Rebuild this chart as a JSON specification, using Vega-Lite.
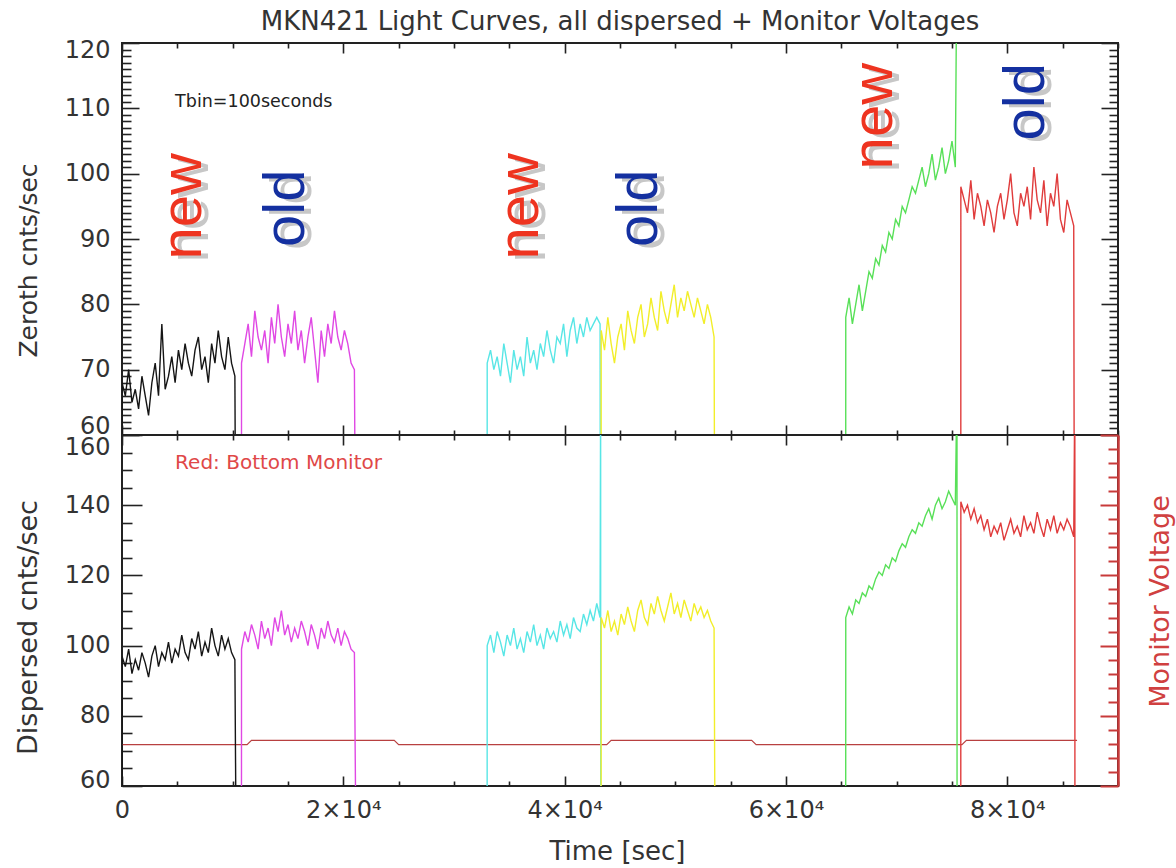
{
  "$schema": "https://vega.github.io/schema/vega-lite/v6.json",
  "autosize": "none",
  "padding": {"left": 122, "top": 43, "right": 1054, "bottom": 825},
  "background": "white",
  "config": {
    "view": {"stroke": "#222", "strokeWidth": 2},
    "font": "DejaVu Sans",
    "axis": {"grid": false, "domain": false, "tickColor": "#222", "tickWidth": 1.6, "labelFont": "DejaVu Sans", "labelFontSize": 24, "labelColor": "#333", "labelOverlap": false, "labelFlush": false, "titleFont": "DejaVu Sans", "titleFontSize": 25, "titleFontWeight": "normal", "titleColor": "#333"}
  },
  "datasets": {
    "lc": [
      {"t": -1, "z": 0, "d": 0, "s": "k"},
      {"t": 0, "z": 68, "d": 97, "s": "k"}, {"t": 300, "z": 66, "d": 94, "s": "k"}, {"t": 600, "z": 70, "d": 99, "s": "k"}, {"t": 900, "z": 65, "d": 92, "s": "k"}, {"t": 1200, "z": 67, "d": 96, "s": "k"},
      {"t": 1500, "z": 64, "d": 93, "s": "k"}, {"t": 1800, "z": 69, "d": 98, "s": "k"}, {"t": 2100, "z": 66, "d": 95, "s": "k"}, {"t": 2400, "z": 63, "d": 91, "s": "k"}, {"t": 2700, "z": 68, "d": 97, "s": "k"},
      {"t": 3000, "z": 71, "d": 100, "s": "k"}, {"t": 3300, "z": 66, "d": 94, "s": "k"}, {"t": 3600, "z": 77, "d": 98, "s": "k"}, {"t": 3900, "z": 67, "d": 96, "s": "k"}, {"t": 4200, "z": 69, "d": 101, "s": "k"},
      {"t": 4500, "z": 72, "d": 95, "s": "k"}, {"t": 4800, "z": 68, "d": 99, "s": "k"}, {"t": 5100, "z": 73, "d": 97, "s": "k"}, {"t": 5400, "z": 70, "d": 103, "s": "k"}, {"t": 5700, "z": 74, "d": 98, "s": "k"},
      {"t": 6000, "z": 71, "d": 96, "s": "k"}, {"t": 6300, "z": 69, "d": 102, "s": "k"}, {"t": 6600, "z": 73, "d": 99, "s": "k"}, {"t": 6900, "z": 75, "d": 104, "s": "k"}, {"t": 7200, "z": 70, "d": 97, "s": "k"},
      {"t": 7500, "z": 72, "d": 101, "s": "k"}, {"t": 7800, "z": 68, "d": 98, "s": "k"}, {"t": 8100, "z": 74, "d": 105, "s": "k"}, {"t": 8400, "z": 71, "d": 100, "s": "k"}, {"t": 8700, "z": 76, "d": 97, "s": "k"},
      {"t": 9000, "z": 72, "d": 103, "s": "k"}, {"t": 9300, "z": 70, "d": 99, "s": "k"}, {"t": 9600, "z": 75, "d": 102, "s": "k"}, {"t": 9900, "z": 71, "d": 98, "s": "k"}, {"t": 10200, "z": 69, "d": 96, "s": "k"},
      {"t": 10400, "z": 0, "d": 0, "s": "k"},
      {"t": 10790, "z": 0, "d": 0, "s": "m"},
      {"t": 10800, "z": 71, "d": 99, "s": "m"}, {"t": 11100, "z": 74, "d": 104, "s": "m"}, {"t": 11400, "z": 77, "d": 101, "s": "m"}, {"t": 11700, "z": 72, "d": 106, "s": "m"}, {"t": 12000, "z": 79, "d": 103, "s": "m"},
      {"t": 12300, "z": 75, "d": 99, "s": "m"}, {"t": 12600, "z": 73, "d": 107, "s": "m"}, {"t": 12900, "z": 76, "d": 102, "s": "m"}, {"t": 13200, "z": 71, "d": 105, "s": "m"}, {"t": 13500, "z": 78, "d": 100, "s": "m"},
      {"t": 13800, "z": 74, "d": 108, "s": "m"}, {"t": 14100, "z": 80, "d": 104, "s": "m"}, {"t": 14400, "z": 75, "d": 110, "s": "m"}, {"t": 14700, "z": 72, "d": 103, "s": "m"}, {"t": 15000, "z": 77, "d": 106, "s": "m"},
      {"t": 15300, "z": 74, "d": 101, "s": "m"}, {"t": 15600, "z": 79, "d": 105, "s": "m"}, {"t": 15900, "z": 73, "d": 102, "s": "m"}, {"t": 16200, "z": 76, "d": 107, "s": "m"}, {"t": 16500, "z": 71, "d": 104, "s": "m"},
      {"t": 16800, "z": 75, "d": 100, "s": "m"}, {"t": 17100, "z": 78, "d": 106, "s": "m"}, {"t": 17400, "z": 73, "d": 103, "s": "m"}, {"t": 17700, "z": 68, "d": 99, "s": "m"}, {"t": 18000, "z": 76, "d": 105, "s": "m"},
      {"t": 18300, "z": 72, "d": 102, "s": "m"}, {"t": 18600, "z": 77, "d": 107, "s": "m"}, {"t": 18900, "z": 74, "d": 103, "s": "m"}, {"t": 19200, "z": 79, "d": 101, "s": "m"}, {"t": 19500, "z": 75, "d": 105, "s": "m"},
      {"t": 19800, "z": 73, "d": 100, "s": "m"}, {"t": 20100, "z": 76, "d": 104, "s": "m"}, {"t": 20400, "z": 74, "d": 102, "s": "m"}, {"t": 20700, "z": 71, "d": 99, "s": "m"}, {"t": 21000, "z": 70, "d": 98, "s": "m"},
      {"t": 21250, "z": 0, "d": 0, "s": "m"},
      {"t": 32990, "z": 0, "d": 0, "s": "c"},
      {"t": 33000, "z": 71, "d": 100, "s": "c"}, {"t": 33300, "z": 73, "d": 103, "s": "c"}, {"t": 33600, "z": 70, "d": 98, "s": "c"}, {"t": 33900, "z": 72, "d": 104, "s": "c"}, {"t": 34200, "z": 69, "d": 101, "s": "c"},
      {"t": 34500, "z": 74, "d": 97, "s": "c"}, {"t": 34800, "z": 71, "d": 103, "s": "c"}, {"t": 35100, "z": 68, "d": 100, "s": "c"}, {"t": 35400, "z": 73, "d": 105, "s": "c"}, {"t": 35700, "z": 70, "d": 99, "s": "c"},
      {"t": 36000, "z": 72, "d": 102, "s": "c"}, {"t": 36300, "z": 69, "d": 98, "s": "c"}, {"t": 36600, "z": 75, "d": 104, "s": "c"}, {"t": 36900, "z": 71, "d": 101, "s": "c"}, {"t": 37200, "z": 73, "d": 106, "s": "c"},
      {"t": 37500, "z": 70, "d": 100, "s": "c"}, {"t": 37800, "z": 74, "d": 103, "s": "c"}, {"t": 38100, "z": 72, "d": 99, "s": "c"}, {"t": 38400, "z": 76, "d": 105, "s": "c"}, {"t": 38700, "z": 73, "d": 102, "s": "c"},
      {"t": 39000, "z": 71, "d": 104, "s": "c"}, {"t": 39300, "z": 75, "d": 101, "s": "c"}, {"t": 39600, "z": 74, "d": 107, "s": "c"}, {"t": 39900, "z": 77, "d": 103, "s": "c"}, {"t": 40200, "z": 72, "d": 106, "s": "c"},
      {"t": 40500, "z": 76, "d": 102, "s": "c"}, {"t": 40800, "z": 78, "d": 108, "s": "c"}, {"t": 41100, "z": 74, "d": 105, "s": "c"}, {"t": 41400, "z": 77, "d": 104, "s": "c"}, {"t": 41700, "z": 75, "d": 109, "s": "c"},
      {"t": 42000, "z": 78, "d": 106, "s": "c"}, {"t": 42300, "z": 76, "d": 110, "s": "c"}, {"t": 42600, "z": 77, "d": 107, "s": "c"}, {"t": 42900, "z": 78, "d": 112, "s": "c"}, {"t": 43200, "z": 77, "d": 108, "s": "c"},
      {"t": 43250, "z": 0, "d": 175, "s": "c"}, {"t": 43260, "z": 0, "d": 0, "s": "c"},
      {"t": 43290, "z": 0, "d": 0, "s": "y"},
      {"t": 43300, "z": 76, "d": 108, "s": "y"}, {"t": 43600, "z": 73, "d": 105, "s": "y"}, {"t": 43900, "z": 78, "d": 110, "s": "y"}, {"t": 44200, "z": 74, "d": 104, "s": "y"}, {"t": 44500, "z": 71, "d": 107, "s": "y"},
      {"t": 44800, "z": 75, "d": 103, "s": "y"}, {"t": 45100, "z": 77, "d": 109, "s": "y"}, {"t": 45400, "z": 73, "d": 106, "s": "y"}, {"t": 45700, "z": 79, "d": 111, "s": "y"}, {"t": 46000, "z": 76, "d": 107, "s": "y"},
      {"t": 46300, "z": 74, "d": 104, "s": "y"}, {"t": 46600, "z": 78, "d": 110, "s": "y"}, {"t": 46900, "z": 80, "d": 113, "s": "y"}, {"t": 47200, "z": 75, "d": 108, "s": "y"}, {"t": 47500, "z": 77, "d": 106, "s": "y"},
      {"t": 47800, "z": 81, "d": 112, "s": "y"}, {"t": 48100, "z": 78, "d": 109, "s": "y"}, {"t": 48400, "z": 76, "d": 114, "s": "y"}, {"t": 48700, "z": 82, "d": 110, "s": "y"}, {"t": 49000, "z": 79, "d": 107, "s": "y"},
      {"t": 49300, "z": 77, "d": 111, "s": "y"}, {"t": 49600, "z": 80, "d": 115, "s": "y"}, {"t": 49900, "z": 83, "d": 109, "s": "y"}, {"t": 50200, "z": 78, "d": 112, "s": "y"}, {"t": 50500, "z": 81, "d": 108, "s": "y"},
      {"t": 50800, "z": 79, "d": 113, "s": "y"}, {"t": 51100, "z": 82, "d": 110, "s": "y"}, {"t": 51400, "z": 80, "d": 107, "s": "y"}, {"t": 51700, "z": 78, "d": 112, "s": "y"}, {"t": 52000, "z": 81, "d": 109, "s": "y"},
      {"t": 52300, "z": 79, "d": 111, "s": "y"}, {"t": 52600, "z": 77, "d": 108, "s": "y"}, {"t": 52900, "z": 80, "d": 110, "s": "y"}, {"t": 53200, "z": 78, "d": 107, "s": "y"}, {"t": 53500, "z": 75, "d": 105, "s": "y"},
      {"t": 53650, "z": 0, "d": 0, "s": "y"},
      {"t": 65390, "z": 0, "d": 0, "s": "g"},
      {"t": 65400, "z": 78, "d": 108, "s": "g"}, {"t": 65700, "z": 81, "d": 111, "s": "g"}, {"t": 66000, "z": 77, "d": 109, "s": "g"}, {"t": 66300, "z": 80, "d": 113, "s": "g"}, {"t": 66600, "z": 83, "d": 112, "s": "g"},
      {"t": 66900, "z": 79, "d": 115, "s": "g"}, {"t": 67200, "z": 82, "d": 114, "s": "g"}, {"t": 67500, "z": 85, "d": 117, "s": "g"}, {"t": 67800, "z": 84, "d": 116, "s": "g"}, {"t": 68100, "z": 87, "d": 119, "s": "g"},
      {"t": 68400, "z": 86, "d": 121, "s": "g"}, {"t": 68700, "z": 89, "d": 120, "s": "g"}, {"t": 69000, "z": 88, "d": 123, "s": "g"}, {"t": 69300, "z": 91, "d": 122, "s": "g"}, {"t": 69600, "z": 90, "d": 125, "s": "g"},
      {"t": 69900, "z": 93, "d": 124, "s": "g"}, {"t": 70200, "z": 92, "d": 127, "s": "g"}, {"t": 70500, "z": 95, "d": 129, "s": "g"}, {"t": 70800, "z": 94, "d": 128, "s": "g"}, {"t": 71100, "z": 96, "d": 131, "s": "g"},
      {"t": 71400, "z": 98, "d": 133, "s": "g"}, {"t": 71700, "z": 97, "d": 132, "s": "g"}, {"t": 72000, "z": 99, "d": 135, "s": "g"}, {"t": 72300, "z": 101, "d": 134, "s": "g"}, {"t": 72600, "z": 98, "d": 137, "s": "g"},
      {"t": 72900, "z": 100, "d": 139, "s": "g"}, {"t": 73200, "z": 103, "d": 136, "s": "g"}, {"t": 73500, "z": 99, "d": 140, "s": "g"}, {"t": 73800, "z": 101, "d": 142, "s": "g"}, {"t": 74100, "z": 104, "d": 139, "s": "g"},
      {"t": 74400, "z": 100, "d": 141, "s": "g"}, {"t": 74700, "z": 102, "d": 144, "s": "g"}, {"t": 75000, "z": 105, "d": 142, "s": "g"}, {"t": 75300, "z": 101, "d": 140, "s": "g"},
      {"t": 75450, "z": 135, "d": 175, "s": "g"}, {"t": 75460, "z": 135, "d": 0, "s": "g"},
      {"t": 75790, "z": 0, "d": 0, "s": "r"},
      {"t": 75800, "z": 98, "d": 141, "s": "r"}, {"t": 76100, "z": 96, "d": 138, "s": "r"}, {"t": 76400, "z": 94, "d": 140, "s": "r"}, {"t": 76700, "z": 99, "d": 136, "s": "r"}, {"t": 77000, "z": 93, "d": 139, "s": "r"},
      {"t": 77300, "z": 97, "d": 135, "s": "r"}, {"t": 77600, "z": 95, "d": 137, "s": "r"}, {"t": 77900, "z": 92, "d": 133, "s": "r"}, {"t": 78200, "z": 96, "d": 136, "s": "r"}, {"t": 78500, "z": 94, "d": 131, "s": "r"},
      {"t": 78800, "z": 91, "d": 134, "s": "r"}, {"t": 79100, "z": 95, "d": 132, "s": "r"}, {"t": 79400, "z": 97, "d": 135, "s": "r"}, {"t": 79700, "z": 93, "d": 130, "s": "r"}, {"t": 80000, "z": 96, "d": 133, "s": "r"},
      {"t": 80300, "z": 100, "d": 136, "s": "r"}, {"t": 80600, "z": 94, "d": 132, "s": "r"}, {"t": 80900, "z": 92, "d": 134, "s": "r"}, {"t": 81200, "z": 97, "d": 131, "s": "r"}, {"t": 81500, "z": 95, "d": 137, "s": "r"},
      {"t": 81800, "z": 98, "d": 133, "s": "r"}, {"t": 82100, "z": 93, "d": 135, "s": "r"}, {"t": 82400, "z": 101, "d": 132, "s": "r"}, {"t": 82700, "z": 96, "d": 138, "s": "r"}, {"t": 83000, "z": 94, "d": 134, "s": "r"},
      {"t": 83300, "z": 99, "d": 131, "s": "r"}, {"t": 83600, "z": 92, "d": 136, "s": "r"}, {"t": 83900, "z": 97, "d": 133, "s": "r"}, {"t": 84200, "z": 95, "d": 137, "s": "r"}, {"t": 84500, "z": 100, "d": 132, "s": "r"},
      {"t": 84800, "z": 93, "d": 135, "s": "r"}, {"t": 85100, "z": 91, "d": 133, "s": "r"}, {"t": 85400, "z": 96, "d": 136, "s": "r"}, {"t": 85700, "z": 94, "d": 134, "s": "r"}, {"t": 86000, "z": 92, "d": 131, "s": "r"},
      {"t": 86100, "z": 0, "d": 175, "s": "r"}, {"t": 86110, "z": 0, "d": 0, "s": "r"}
    ],
    "mon": [
      {"t": 0, "v": 71.8}, {"t": 11300, "v": 71.8}, {"t": 11700, "v": 73.0}, {"t": 24600, "v": 73.0}, {"t": 25000, "v": 71.8},
      {"t": 43800, "v": 71.8}, {"t": 44200, "v": 73.0}, {"t": 56900, "v": 73.0}, {"t": 57300, "v": 71.8},
      {"t": 75900, "v": 71.8}, {"t": 76300, "v": 73.0}, {"t": 86300, "v": 73.0}
    ],
    "ann": [
      {"t": 5600, "v": 95, "label": "new"}, {"t": 14900, "v": 94.7, "label": "old"},
      {"t": 36030, "v": 95, "label": "new"}, {"t": 46770, "v": 94.7, "label": "old"},
      {"t": 68080, "v": 108.8, "label": "new"}, {"t": 81800, "v": 111, "label": "old"}
    ]
  },
  "spacing": 0,
  "bounds": "flush",
  "vconcat": [
    {
      "width": 996,
      "height": 392,
      "title": {"text": "MKN421 Light Curves, all dispersed + Monitor Voltages", "font": "DejaVu Sans", "fontSize": 26, "fontWeight": "normal", "color": "#333", "offset": 12, "dy": 9, "anchor": "middle"},
      "resolve": {"axis": {"x": "independent", "y": "independent"}, "scale": {"color": "independent"}},
      "layer": [
        {
          "data": {"name": "lc"},
          "mark": {"type": "line", "strokeWidth": 1.4, "clip": true},
          "encoding": {
            "x": {"field": "t", "type": "quantitative", "scale": {"domain": [0, 90000], "nice": false, "zero": false},
              "axis": {"orient": "bottom", "values": [0,5000,10000,15000,20000,25000,30000,35000,40000,45000,50000,55000,60000,65000,70000,75000,80000,85000,90000], "labels": false, "title": null,
                "tickSize": {"condition": {"test": "datum.value % 20000 === 0", "value": -10}, "value": -5}}},
            "y": {"field": "z", "type": "quantitative", "scale": {"domain": [60, 120], "nice": false, "zero": false},
              "axis": {"orient": "left", "values": [60,61,62,63,64,65,66,67,68,69,70,71,72,73,74,75,76,77,78,79,80,81,82,83,84,85,86,87,88,89,90,91,92,93,94,95,96,97,98,99,100,101,102,103,104,105,106,107,108,109,110,111,112,113,114,115,116,117,118,119,120],
                "labelExpr": "datum.value % 10 === 0 ? datum.label : ''", "labelPadding": 29,
                "labelOffset": {"condition": [{"test": "datum.value === 120", "value": 7}, {"test": "datum.value === 60", "value": -9}], "value": 0},
                "tickSize": {"condition": {"test": "datum.value % 10 === 0", "value": -17}, "value": -9},
                "title": "Zeroth cnts/sec", "titleX": -94, "titleY": 217, "titleBaseline": "middle", "titleAngle": 270}},
            "color": {"field": "s", "type": "nominal", "scale": {"domain": ["k","m","c","y","g","r"], "range": ["#151515","#e048e4","#58e6e6","#f2ee2a","#58e058","#e03c3c"]}, "legend": null}
          }
        },
        {
          "data": {"name": "ann"},
          "mark": {"type": "text", "angle": 270, "font": "Liberation Sans", "fontSize": 58, "color": "#9a9a9a", "opacity": 0.55, "xOffset": 7, "yOffset": 3},
          "encoding": {
            "x": {"field": "t", "type": "quantitative", "scale": {"domain": [0, 90000], "nice": false, "zero": false},
              "axis": {"orient": "top", "values": [0,5000,10000,15000,20000,25000,30000,35000,40000,45000,50000,55000,60000,65000,70000,75000,80000,85000,90000], "labels": false, "title": null,
                "tickSize": {"condition": {"test": "datum.value % 20000 === 0", "value": -10}, "value": -5}}},
            "y": {"field": "v", "type": "quantitative", "scale": {"domain": [60, 120], "nice": false, "zero": false},
              "axis": {"orient": "right", "values": [60,61,62,63,64,65,66,67,68,69,70,71,72,73,74,75,76,77,78,79,80,81,82,83,84,85,86,87,88,89,90,91,92,93,94,95,96,97,98,99,100,101,102,103,104,105,106,107,108,109,110,111,112,113,114,115,116,117,118,119,120],
                "labels": false, "title": null,
                "tickSize": {"condition": {"test": "datum.value % 10 === 0", "value": -17}, "value": -9}}},
            "text": {"field": "label"}
          }
        },
        {
          "data": {"name": "ann"},
          "mark": {"type": "text", "angle": 270, "font": "Liberation Sans", "fontSize": 58},
          "encoding": {
            "x": {"field": "t", "type": "quantitative", "axis": null},
            "y": {"field": "v", "type": "quantitative", "axis": null},
            "text": {"field": "label"},
            "color": {"field": "label", "type": "nominal", "scale": {"domain": ["new", "old"], "range": ["#ee3420", "#1430a0"]}, "legend": null}
          }
        },
        {
          "data": {"values": [{"t": 4800, "v": 111, "txt": "Tbin=100seconds"}]},
          "mark": {"type": "text", "align": "left", "baseline": "middle", "font": "DejaVu Sans", "fontSize": 17.5, "color": "#222"},
          "encoding": {
            "x": {"field": "t", "type": "quantitative", "axis": null},
            "y": {"field": "v", "type": "quantitative", "axis": null},
            "text": {"field": "txt"}
          }
        }
      ]
    },
    {
      "width": 996,
      "height": 351,
      "resolve": {"axis": {"x": "independent", "y": "independent"}},
      "layer": [
        {
          "data": {"name": "mon"},
          "mark": {"type": "line", "color": "#b84040", "strokeWidth": 1.2, "clip": true},
          "encoding": {
            "x": {"field": "t", "type": "quantitative", "scale": {"domain": [0, 90000], "nice": false, "zero": false},
              "axis": {"orient": "top", "values": [0,5000,10000,15000,20000,25000,30000,35000,40000,45000,50000,55000,60000,65000,70000,75000,80000,85000,90000], "labels": false, "title": null,
                "tickSize": {"condition": {"test": "datum.value % 20000 === 0", "value": -10}, "value": -5}}},
            "y": {"field": "v", "type": "quantitative", "scale": {"domain": [60, 160], "nice": false, "zero": false},
              "axis": {"orient": "right", "values": [60,64,68,72,76,80,84,88,92,96,100,104,108,112,116,120,124,128,132,136,140,144,148,152,156,160],
                "labels": false, "domain": true, "domainColor": "#c83a3a", "domainWidth": 2.5, "tickColor": "#c83a3a", "tickWidth": 2,
                "tickSize": {"condition": {"test": "(datum.value - 60) % 20 === 0", "value": -18}, "value": -10},
                "title": "Monitor Voltage", "titleColor": "#d04040", "titleFontSize": 27, "titleX": 42, "titleY": 166, "titleBaseline": "middle", "titleAngle": 270}}
          }
        },
        {
          "data": {"name": "lc"},
          "mark": {"type": "line", "strokeWidth": 1.4, "clip": true},
          "encoding": {
            "x": {"field": "t", "type": "quantitative", "scale": {"domain": [0, 90000], "nice": false, "zero": false},
              "axis": {"orient": "bottom", "values": [0,5000,10000,15000,20000,25000,30000,35000,40000,45000,50000,55000,60000,65000,70000,75000,80000,85000,90000],
                "labelExpr": "datum.value === 0 ? '0' : (datum.value % 20000 === 0 ? (datum.value / 10000) + '×10⁴' : '')", "labelPadding": 22,
                "tickSize": {"condition": {"test": "datum.value % 20000 === 0", "value": -10}, "value": -5},
                "title": "Time [sec]", "titleFontSize": 26, "titleX": 495, "titleY": 65, "titleBaseline": "middle"}},
            "y": {"field": "d", "type": "quantitative", "scale": {"domain": [60, 160], "nice": false, "zero": false},
              "axis": {"orient": "left", "values": [60,65,70,75,80,85,90,95,100,105,110,115,120,125,130,135,140,145,150,155,160],
                "labelExpr": "datum.value % 20 === 0 ? datum.label : ''", "labelPadding": 32,
                "labelOffset": {"condition": [{"test": "datum.value === 160", "value": 12}, {"test": "datum.value === 60", "value": -6}], "value": 0},
                "tickSize": {"condition": {"test": "datum.value % 20 === 0", "value": -20}, "value": -10},
                "title": "Dispersed cnts/sec", "titleFontSize": 27, "titleX": -94, "titleY": 192, "titleBaseline": "middle", "titleAngle": 270}},
            "color": {"field": "s", "type": "nominal", "scale": {"domain": ["k","m","c","y","g","r"], "range": ["#151515","#e048e4","#58e6e6","#f2ee2a","#58e058","#e03c3c"]}, "legend": null}
          }
        },
        {
          "data": {"values": [{"t": 4800, "v": 152, "txt": "Red: Bottom Monitor"}]},
          "mark": {"type": "text", "align": "left", "baseline": "middle", "font": "DejaVu Sans", "fontSize": 20, "color": "#e04848"},
          "encoding": {
            "x": {"field": "t", "type": "quantitative", "axis": null},
            "y": {"field": "v", "type": "quantitative", "axis": null},
            "text": {"field": "txt"}
          }
        }
      ]
    }
  ]
}
